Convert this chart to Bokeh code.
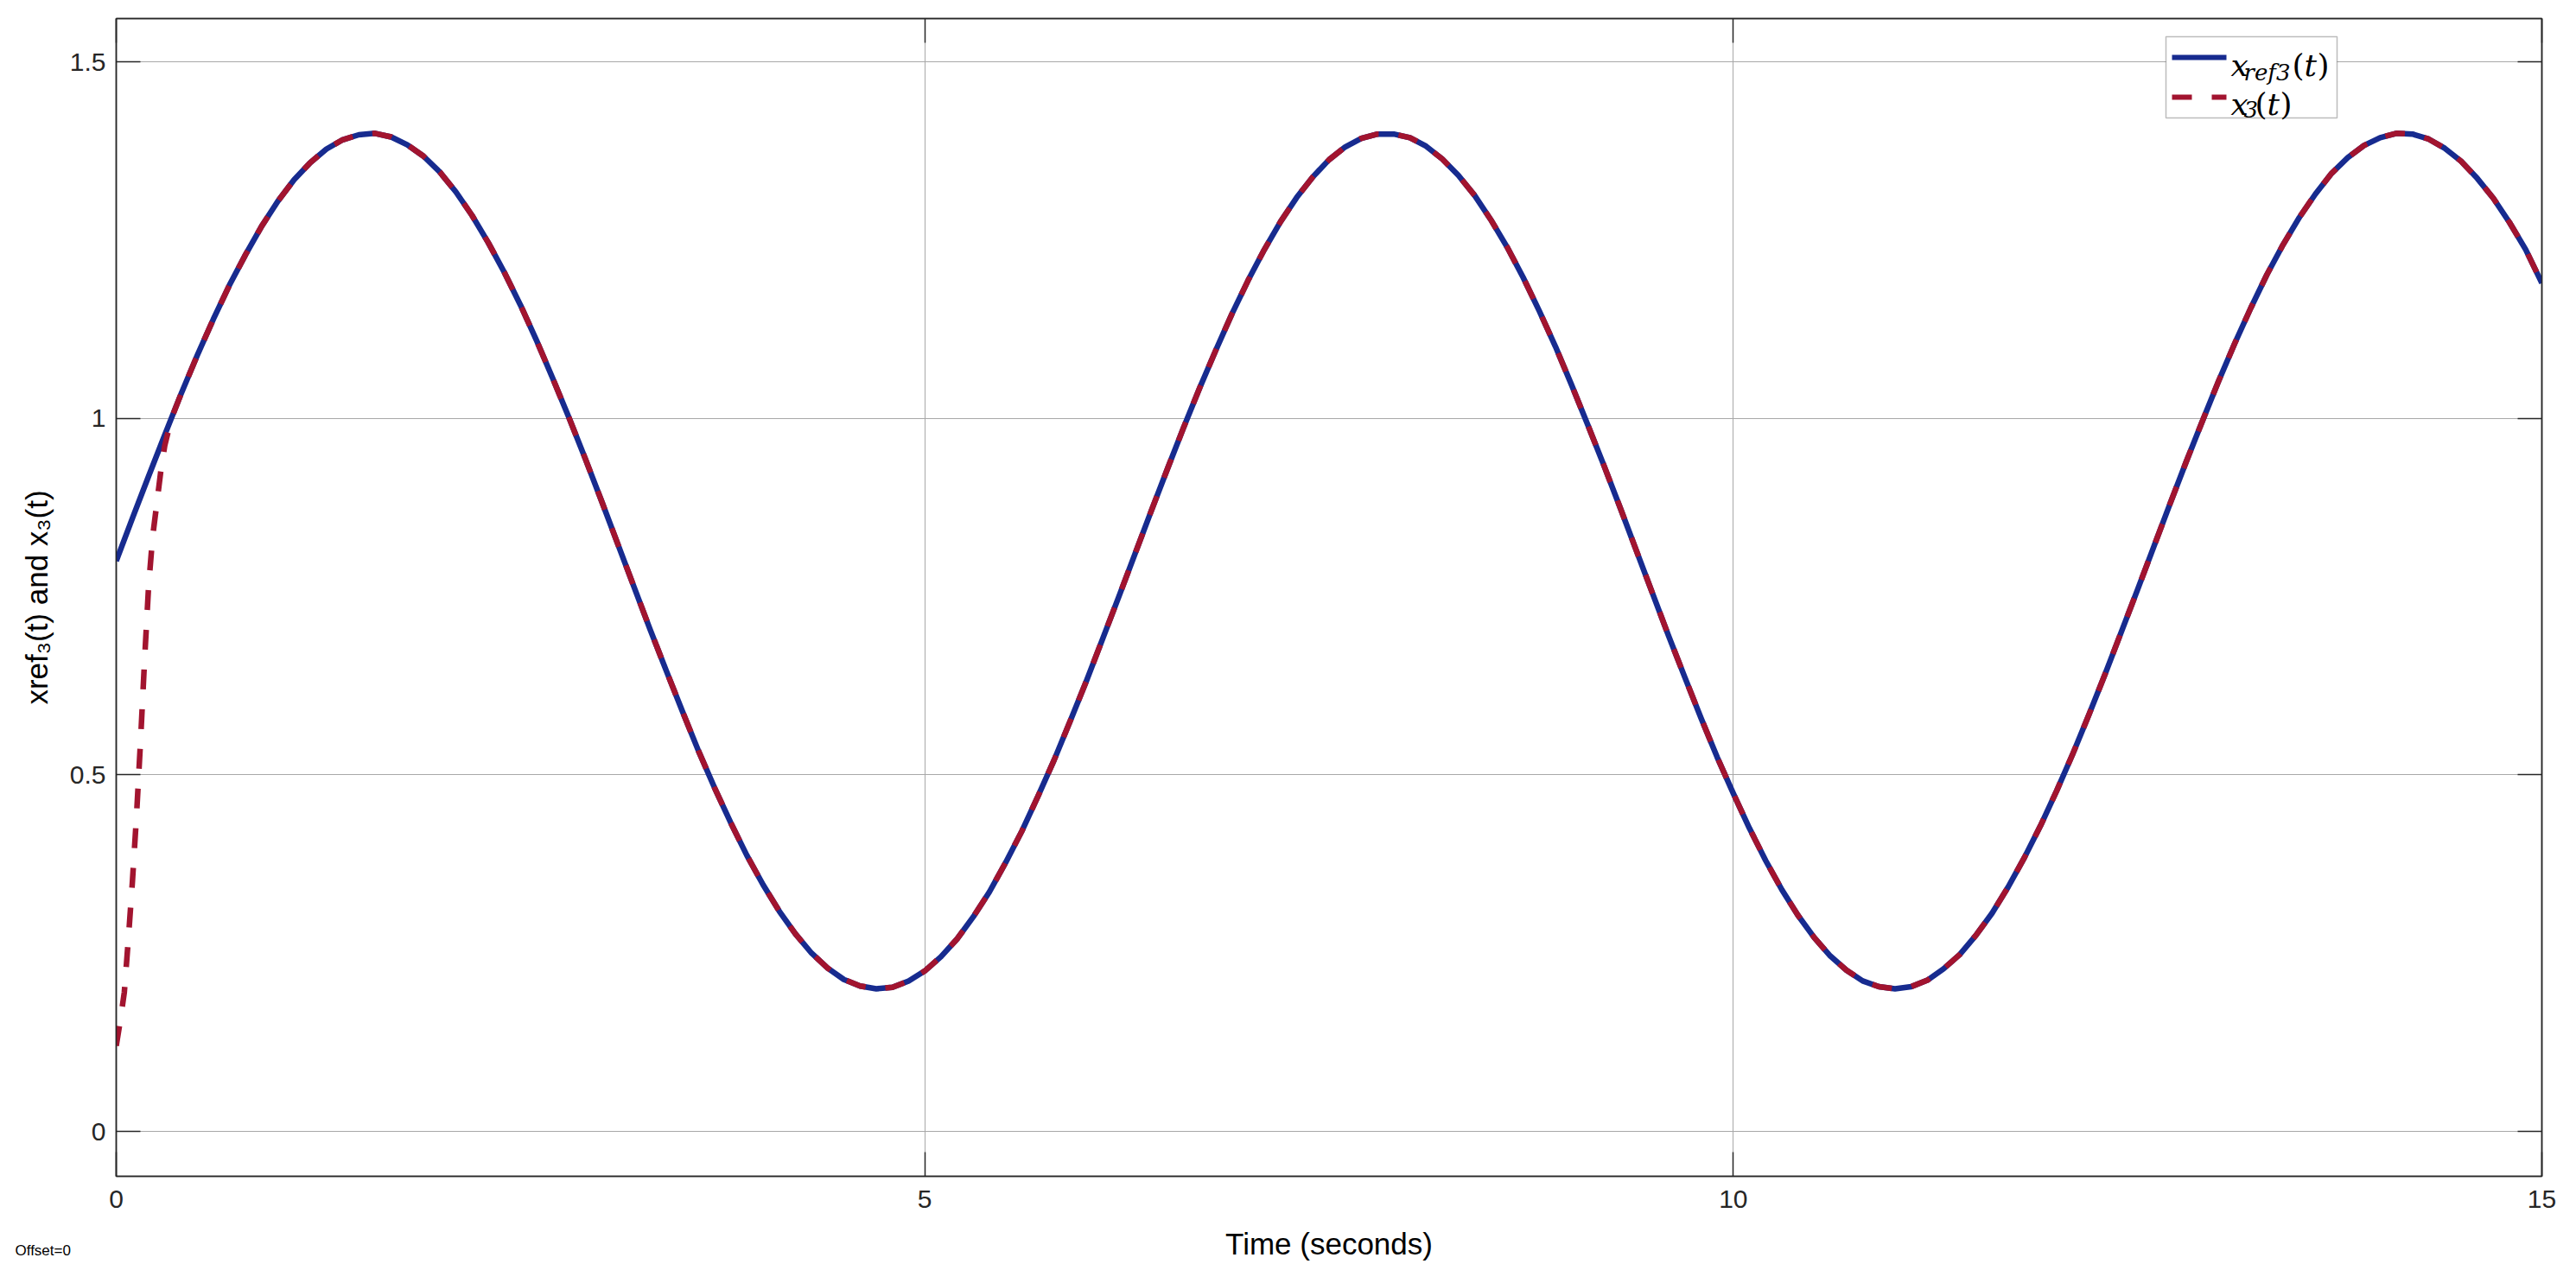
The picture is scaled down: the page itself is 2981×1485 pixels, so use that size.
import numpy as np
from bokeh.plotting import figure
from bokeh.models import Range1d, LinearAxis, Label, BoxAnnotation, Arrow, FixedTicker
from bokeh.embed import file_html
from bokeh.resources import INLINE

# ---------------- data ----------------
# reference signal xref3(t), sampled every 0.1 s from 0 to 15 s
t_ref = np.round(np.arange(0, 151) * 0.1, 1)
xref3 = [
    0.800, 0.860, 0.919, 0.977, 1.034, 1.088, 1.139, 1.187, 1.230, 1.270,
    1.305, 1.335, 1.359, 1.378, 1.391, 1.398, 1.400, 1.395, 1.384, 1.368,
    1.346, 1.318, 1.285, 1.247, 1.205, 1.159, 1.109, 1.056, 1.001, 0.944,
    0.885, 0.825, 0.765, 0.705, 0.647, 0.590, 0.534, 0.482, 0.433, 0.387,
    0.346, 0.309, 0.277, 0.250, 0.229, 0.213, 0.204, 0.200, 0.202, 0.211,
    0.225, 0.245, 0.270, 0.301, 0.336, 0.377, 0.421, 0.470, 0.521, 0.576,
    0.632, 0.691, 0.750, 0.810, 0.870, 0.929, 0.987, 1.043, 1.096, 1.147,
    1.194, 1.237, 1.276, 1.310, 1.339, 1.363, 1.381, 1.393, 1.399, 1.399,
    1.394, 1.382, 1.364, 1.341, 1.313, 1.279, 1.241, 1.198, 1.151, 1.101,
    1.047, 0.991, 0.934, 0.875, 0.815, 0.755, 0.695, 0.637, 0.580, 0.525,
    0.474, 0.425, 0.380, 0.339, 0.303, 0.272, 0.246, 0.226, 0.211, 0.203,
    0.200, 0.203, 0.212, 0.228, 0.248, 0.275, 0.306, 0.343, 0.384, 0.429,
    0.478, 0.530, 0.585, 0.642, 0.701, 0.760, 0.820, 0.880, 0.939, 0.996,
    1.052, 1.105, 1.155, 1.202, 1.244, 1.282, 1.315, 1.344, 1.366, 1.383,
    1.394, 1.400, 1.399, 1.392, 1.379, 1.361, 1.337, 1.309, 1.275, 1.237,
    1.190,
]
# state x3(t): fast initial transient, afterwards it tracks xref3
t_x3_start = [0.0, 0.025, 0.05, 0.075, 0.1, 0.125, 0.15, 0.175, 0.2,
              0.225, 0.25, 0.275, 0.3, 0.325, 0.35]
x3_start = [0.120, 0.155, 0.195, 0.270, 0.350, 0.441, 0.546, 0.660, 0.764,
            0.834, 0.879, 0.925, 0.962, 0.985, 1.005]
t_x3 = list(t_x3_start) + list(t_ref[4:])
x3 = list(x3_start) + list(xref3[4:])

x_ticks = [0, 5, 10, 15]
x_tick_labels = ["0", "5", "10", "15"]
y_ticks = [0, 0.5, 1, 1.5]
y_tick_labels = ["0", "0.5", "1", "1.5"]

# ---------------- style ----------------
BLUE = "#172B8F"
RED = "#A2142F"
AX = "#262626"
GRID = "#a8a8a8"
SANS = "Liberation Sans"
SERIF = "DejaVu Serif"
LW = 6.5

# screen geometry (page pixels): frame left/right, y=0 tick row, px per unit
F_LEFT, F_RIGHT = 134, 2941
Y0_PX, PX_PER_Y = 1309, 825.1
F_TOP_EST, F_BOTTOM = 21, 1361

X_MIN, X_MAX = 0, 15
Y_MIN = -(F_BOTTOM - Y0_PX) / PX_PER_Y
Y_MAX = (Y0_PX - F_TOP_EST) / PX_PER_Y


def px2x(px):
    return X_MIN + (px - F_LEFT) / (F_RIGHT - F_LEFT) * (X_MAX - X_MIN)


def px2y(py):
    return (Y0_PX - py) / PX_PER_Y


p = figure(width=2981, height=1485,
           x_range=Range1d(X_MIN, X_MAX), y_range=Range1d(Y_MIN, Y_MAX),
           output_backend="svg", toolbar_location=None,
           min_border_left=F_LEFT, min_border_right=2981 - F_RIGHT,
           min_border_top=F_TOP_EST, min_border_bottom=1485 - F_BOTTOM)
p.background_fill_color = "white"
p.border_fill_color = "white"
p.outline_line_color = AX
p.outline_line_width = 1.5


def style_axis(ax, ticks, labels, show):
    ax.ticker = FixedTicker(ticks=ticks)
    ax.major_tick_in = 28
    ax.major_tick_out = 0
    ax.minor_tick_in = 0
    ax.minor_tick_out = 0
    ax.major_tick_line_color = AX
    ax.major_tick_line_width = 1.5
    ax.axis_line_color = AX
    ax.axis_line_width = 1.5
    if show:
        ax.major_label_overrides = dict(zip(ticks, labels))
        ax.major_label_text_font = SANS
        ax.major_label_text_font_size = "30px"
        ax.major_label_text_color = AX
    else:
        ax.major_label_overrides = {k: "" for k in ticks}
        ax.major_label_text_font_size = "0px"
        ax.major_label_standoff = 0


style_axis(p.xaxis[0], x_ticks, x_tick_labels, True)
style_axis(p.yaxis[0], y_ticks, y_tick_labels, True)
p.xaxis[0].major_label_standoff = 16
p.yaxis[0].major_label_standoff = 12

p.xaxis[0].axis_label = "Time (seconds)"
p.yaxis[0].axis_label = "xref\u2083(t) and x\u2083(t)"
for ax in (p.xaxis[0], p.yaxis[0]):
    ax.axis_label_text_font = SANS
    ax.axis_label_text_font_size = "35px"
    ax.axis_label_text_font_style = "normal"
    ax.axis_label_text_color = "black"
p.xaxis[0].axis_label_standoff = 19
p.yaxis[0].axis_label_standoff = 16

right_ax = LinearAxis()
style_axis(right_ax, y_ticks, y_tick_labels, False)
p.add_layout(right_ax, "right")
top_ax = LinearAxis()
style_axis(top_ax, x_ticks, x_tick_labels, False)
p.add_layout(top_ax, "above")

for g, ticks in ((p.xgrid[0], x_ticks), (p.ygrid[0], y_ticks)):
    g.ticker = FixedTicker(ticks=ticks)
    g.grid_line_color = GRID
    g.grid_line_width = 1

# ---------------- data lines ----------------
p.line(t_ref, xref3, line_color=BLUE, line_width=LW, line_join="round")
p.line(t_x3, x3, line_color=RED, line_width=LW, line_dash="23 23",
       line_join="round")

# ---------------- legend (hand-built to mimic the TeX labels) ----------------
p.add_layout(BoxAnnotation(left=px2x(2506), right=px2x(2704),
                           top=px2y(42), bottom=px2y(136),
                           fill_color="white", fill_alpha=1.0,
                           line_color=AX, line_width=1.5))
p.add_layout(Arrow(start=None, end=None, x_start=px2x(2513), x_end=px2x(2576),
                   y_start=px2y(66), y_end=px2y(66),
                   line_color=BLUE, line_width=6))
p.add_layout(Arrow(start=None, end=None, x_start=px2x(2513), x_end=px2x(2576),
                   y_start=px2y(112), y_end=px2y(112),
                   line_color=RED, line_width=6, line_dash="23 23"))


def tex_piece(text, xpx, ypx, size, style):
    p.add_layout(Label(x=px2x(xpx), y=px2y(ypx), text=text,
                       text_font=SERIF, text_font_size=size,
                       text_font_style=style, text_color="black",
                       text_baseline="alphabetic", text_align="left"))


# row 1: x_{ref3}(t)
tex_piece("x", 2581, 75, "36px", "italic")
tex_piece("ref3", 2596, 83, "26px", "italic")
tex_piece("(", 2652, 75, "36px", "normal")
tex_piece("t", 2666, 75, "36px", "italic")
tex_piece(")", 2681, 75, "36px", "normal")
# row 2: x_3(t)
tex_piece("x", 2581, 120, "36px", "italic")
tex_piece("3", 2596, 126, "26px", "italic")
tex_piece("(", 2609, 120, "36px", "normal")
tex_piece("t", 2623, 120, "36px", "italic")
tex_piece(")", 2638, 120, "36px", "normal")

# footer note: placed in a side panel so that it is not clipped to the frame
p.add_layout(Label(x=px2x(17), y=px2y(1447), text="Offset=0",
                   text_font=SANS, text_font_size="17px",
                   text_color="black", text_baseline="alphabetic"), "above")

open("out.html", "w").write(file_html(p, INLINE))
